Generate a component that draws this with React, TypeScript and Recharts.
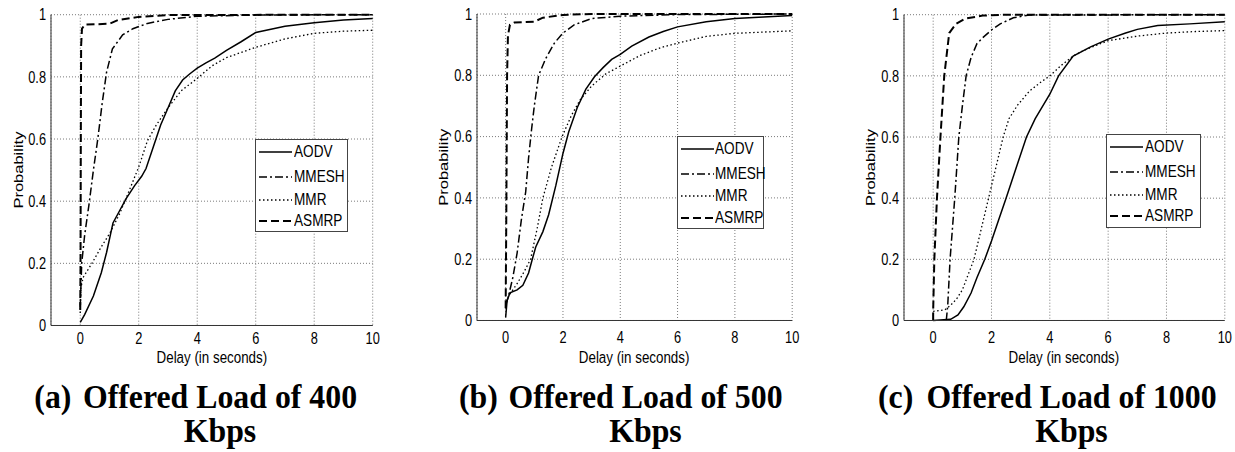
import React from "react";
import { LineChart, Line, XAxis, YAxis, CartesianGrid, Legend } from "recharts";

// ---- data (delay in seconds, cumulative probability) ----
const xTicks = [0, 2, 4, 6, 8, 10];
const yTicks = [0, 0.2, 0.4, 0.6, 0.8, 1];
const seriesNames = ["AODV", "MMESH", "MMR", "ASMRP"];

const aodv400: [number, number][] = [
  [0, 0.01], [0.15, 0.035], [0.45, 0.095], [0.72, 0.17], [0.9, 0.235], [1.12, 0.33], [1.35, 0.37],
  [1.58, 0.41], [1.86, 0.45], [2.1, 0.48], [2.25, 0.505], [2.5, 0.575], [2.75, 0.645], [3.0, 0.7],
  [3.25, 0.755], [3.5, 0.79], [3.75, 0.81], [4.0, 0.828], [4.3, 0.845], [4.6, 0.86], [5.0, 0.885],
  [5.5, 0.913], [6.0, 0.943], [7.0, 0.963], [8.0, 0.974], [9.0, 0.983], [10, 0.988],
];
const mmesh400: [number, number][] = [
  [0, 0.06], [0.05, 0.2], [0.15, 0.29], [0.3, 0.39], [0.45, 0.5], [0.6, 0.6], [0.75, 0.715],
  [0.9, 0.815], [1.1, 0.89], [1.45, 0.935], [1.8, 0.955], [2.3, 0.972], [3.0, 0.985], [4.0, 0.995],
  [6.0, 0.999], [10, 1],
];
const mmr400: [number, number][] = [
  [0, 0.04], [0.02, 0.12], [0.1, 0.155], [0.4, 0.2], [0.7, 0.25], [1.0, 0.295], [1.35, 0.36],
  [1.7, 0.44], [2.0, 0.51], [2.3, 0.595], [2.6, 0.645], [3.0, 0.7], [3.45, 0.755], [4.0, 0.795],
  [4.5, 0.835], [5.0, 0.862], [6.0, 0.895], [7.0, 0.922], [8.0, 0.94], [9.0, 0.947], [10, 0.95],
];
const asmrp400: [number, number][] = [
  [0, 0.05], [0.01, 0.2], [0.02, 0.6], [0.03, 0.9], [0.06, 0.955], [0.15, 0.968], [1.0, 0.971],
  [1.3, 0.983], [2.0, 0.993], [3.0, 0.999], [10, 1],
];

const aodv500: [number, number][] = [
  [0, 0.01], [0.05, 0.065], [0.15, 0.09], [0.4, 0.1], [0.6, 0.115], [0.8, 0.155], [0.93, 0.2],
  [1.05, 0.24], [1.3, 0.29], [1.5, 0.345], [1.75, 0.44], [2.0, 0.545], [2.2, 0.615], [2.5, 0.695],
  [2.8, 0.755], [3.1, 0.795], [3.4, 0.825], [3.7, 0.852], [4.0, 0.868], [4.4, 0.895], [5.0, 0.925],
  [5.5, 0.943], [6.0, 0.958], [7.0, 0.975], [8.0, 0.985], [9.0, 0.99], [10, 0.995],
];
const mmesh500: [number, number][] = [
  [0, 0.05], [0.1, 0.08], [0.25, 0.14], [0.4, 0.22], [0.55, 0.33], [0.7, 0.42], [0.8, 0.53],
  [0.9, 0.62], [1.0, 0.7], [1.15, 0.8], [1.4, 0.855], [1.7, 0.905], [2.0, 0.938], [2.4, 0.965],
  [3.0, 0.985], [4.0, 0.993], [6.0, 0.998], [10, 1],
];
const mmr500: [number, number][] = [
  [0, 0.05], [0.1, 0.08], [0.4, 0.12], [0.65, 0.16], [0.87, 0.2], [1.1, 0.3], [1.3, 0.4],
  [1.6, 0.5], [1.97, 0.6], [2.3, 0.67], [2.6, 0.72], [3.0, 0.765], [3.5, 0.805], [4.0, 0.83],
  [4.7, 0.865], [5.4, 0.89], [6.0, 0.905], [7.0, 0.927], [8.0, 0.937], [9.0, 0.941], [10, 0.945],
];
const asmrp500: [number, number][] = [
  [0, 0.04], [0.02, 0.3], [0.05, 0.8], [0.08, 0.93], [0.15, 0.965], [0.3, 0.972], [1.0, 0.975],
  [1.3, 0.988], [2.0, 0.997], [3.0, 1], [10, 1],
];

const aodv1000: [number, number][] = [
  [0, 0], [0.6, 0.004], [0.85, 0.018], [1.05, 0.045], [1.3, 0.09], [1.5, 0.14], [1.77, 0.2],
  [2.0, 0.26], [2.25, 0.33], [2.5, 0.4], [2.85, 0.5], [3.2, 0.6], [3.5, 0.66], [3.75, 0.7],
  [4.0, 0.74], [4.3, 0.8], [4.8, 0.865], [5.4, 0.895], [6.0, 0.92], [6.6, 0.94], [7.0, 0.952],
  [7.7, 0.965], [8.8, 0.97], [10, 0.977],
];
const mmesh1000: [number, number][] = [
  [0.45, 0], [0.5, 0.05], [0.58, 0.2], [0.74, 0.4], [0.88, 0.6], [1.0, 0.7], [1.13, 0.8],
  [1.3, 0.86], [1.5, 0.905], [1.7, 0.925], [2.0, 0.95], [2.3, 0.97], [2.75, 0.99], [3.3, 0.999],
  [10, 1],
];
const mmr1000: [number, number][] = [
  [0, 0.03], [0.4, 0.035], [0.6, 0.05], [0.8, 0.07], [1.0, 0.1], [1.2, 0.15], [1.4, 0.2],
  [1.65, 0.3], [1.9, 0.4], [2.1, 0.48], [2.4, 0.6], [2.6, 0.66], [2.9, 0.705], [3.3, 0.75],
  [3.7, 0.78], [4.0, 0.8], [4.4, 0.835], [4.8, 0.865], [5.2, 0.885], [6.0, 0.915], [7.0, 0.93],
  [8.0, 0.94], [9.0, 0.945], [10, 0.948],
];
const asmrp1000: [number, number][] = [
  [0, 0], [0, 0.03], [0.04, 0.2], [0.13, 0.4], [0.25, 0.6], [0.38, 0.8], [0.55, 0.94],
  [0.78, 0.97], [1.1, 0.987], [1.7, 0.997], [2.5, 1], [10, 1],
];

// ---- styles ----
const SANS = "'Liberation Sans', Arial, Helvetica, sans-serif";
const SERIF = "'Liberation Serif', 'Times New Roman', serif";
const SQUEEZE = 0.8; // the original figure is narrower than it is tall

const lineStyles: Record<string, { width: number; dash?: string }> = {
  AODV: { width: 1.5 },
  MMESH: { width: 1.5, dash: "8 3 2 3" },
  MMR: { width: 1.3, dash: "1.5 2.5" },
  ASMRP: { width: 2, dash: "8 4" },
};

const legendRows = [11.5, 36.6, 59.3, 80.7];

const toPoints = (arr: [number, number][]) => arr.map(([x, y]) => ({ x, y }));

const panels = [
  {
    tag: "(a)",
    caption: "Offered Load of 400",
    series: [aodv400, mmesh400, mmr400, asmrp400],
    left: 0, top: 14.7, bottom: 325.5, plotLeft: 51, plotRight: 372.7, tickGap: 1.5,
    legend: { left: 255, top: 139.3, width: 93.3, height: 93 },
    tagX: 34.3, captionX: 220,
  },
  {
    tag: "(b)",
    caption: "Offered Load of 500",
    series: [aodv500, mmesh500, mmr500, asmrp500],
    left: 425.5, top: 14, bottom: 320.5, plotLeft: 476.5, plotRight: 791.7, tickGap: 5.5,
    legend: { left: 676.7, top: 136, width: 87.3, height: 93.3 },
    tagX: 459, captionX: 645.5,
  },
  {
    tag: "(c)",
    caption: "Offered Load of 1000",
    series: [aodv1000, mmesh1000, mmr1000, asmrp1000],
    left: 852.5, top: 14.7, bottom: 320.5, plotLeft: 903.5, plotRight: 1224.3, tickGap: 5.5,
    legend: { left: 1106, top: 134.3, width: 94.7, height: 93.3 },
    tagX: 878, captionX: 1071.5,
  },
];

const fmtY = (v: number) => (v === 0 || v === 1 ? String(v) : v.toFixed(1));

function XTick({ x, y, payload }: any) {
  return (
    <g transform={`translate(${x},${y}) scale(${SQUEEZE},1)`}>
      <text textAnchor="middle" dy="0.71em" fontSize={16} fontFamily={SANS} fill="#000">
        {String(payload.value)}
      </text>
    </g>
  );
}

function YTick({ x, y, payload }: any) {
  return (
    <g transform={`translate(${x},${y}) scale(${SQUEEZE},1)`}>
      <text textAnchor="end" dy="0.355em" fontSize={16} fontFamily={SANS} fill="#000">
        {fmtY(payload.value)}
      </text>
    </g>
  );
}

function LegendBox({ width, height }: { width: number; height: number }) {
  return (
    <div
      style={{
        width,
        height,
        boxSizing: "border-box",
        border: "1px solid #444",
        background: "#fff",
        position: "relative",
      }}
    >
      {seriesNames.map((name, i) => {
        const s = lineStyles[name];
        return (
          <div
            key={name}
            style={{
              position: "absolute",
              left: 3,
              top: legendRows[i] - 10,
              height: 20,
              display: "flex",
              alignItems: "center",
              whiteSpace: "nowrap",
            }}
          >
            <svg width={33} height={4} style={{ display: "block" }}>
              <line x1={0} y1={2} x2={33} y2={2} stroke="#000" strokeWidth={s.width} strokeDasharray={s.dash} />
            </svg>
            <span
              style={{
                marginLeft: 1.5,
                fontFamily: SANS,
                fontSize: 17,
                color: "#000",
                lineHeight: "20px",
                display: "inline-block",
                transform: `scaleX(${SQUEEZE})`,
                transformOrigin: "left center",
              }}
            >
              {name}
            </span>
          </div>
        );
      })}
    </div>
  );
}

function Panel({ p }: { p: (typeof panels)[number] }) {
  const marginRight = 10;
  const yAxisWidth = p.plotLeft - p.left;
  const xAxisHeight = 45;
  const width = p.plotRight - p.left + marginRight;
  const height = p.bottom + xAxisHeight + 9;

  return (
    <div style={{ position: "absolute", left: p.left, top: 0 }}>
      <LineChart width={width} height={height} margin={{ top: p.top, right: marginRight, left: 0, bottom: 9 }}>
        <CartesianGrid stroke="#777" strokeDasharray="1 2" />
        <XAxis
          type="number"
          dataKey="x"
          domain={[-1, 10]}
          ticks={xTicks}
          height={xAxisHeight}
          tickLine={false}
          tickMargin={p.tickGap}
          axisLine={{ stroke: "#333" }}
          tick={<XTick />}
        />
        <YAxis
          type="number"
          dataKey="y"
          domain={[0, 1]}
          ticks={yTicks}
          width={yAxisWidth}
          tickSize={3}
          tickLine={false}
          axisLine={{ stroke: "#333" }}
          tick={<YTick />}
        />
        {p.series.map((arr, i) => {
          const name = seriesNames[i];
          const s = lineStyles[name];
          return (
            <Line
              key={name}
              name={name}
              data={toPoints(arr)}
              dataKey="y"
              type="linear"
              stroke="#000"
              strokeWidth={s.width}
              strokeDasharray={s.dash}
              dot={false}
              activeDot={false}
              isAnimationActive={false}
            />
          );
        })}
        <Legend
          layout="horizontal"
          verticalAlign="middle"
          align="center"
          wrapperStyle={{
            left: p.legend.left - p.left,
            top: p.legend.top,
            width: p.legend.width,
            height: p.legend.height,
          }}
          content={() => <LegendBox width={p.legend.width} height={p.legend.height} />}
        />
      </LineChart>
    </div>
  );
}

export default function App() {
  return (
    <div style={{ position: "absolute", left: 0, top: 0, width: 1235, height: 452, background: "#fff", overflow: "hidden" }}>
      {panels.map((p) => (
        <Panel key={p.tag} p={p} />
      ))}
      <svg width={1235} height={452} style={{ position: "absolute", left: 0, top: 0, pointerEvents: "none" }}>
        {panels.map((p) => {
          const cx = (p.plotLeft + p.plotRight) / 2;
          const cy = (p.top + p.bottom) / 2;
          return (
            <g key={p.tag}>
              <g transform={`translate(${cx},363) scale(0.81,1)`}>
                <text textAnchor="middle" fontSize={16.5} fontFamily={SANS} fill="#000">
                  Delay (in seconds)
                </text>
              </g>
              <g transform={`translate(${p.plotLeft - 33},${cy}) scale(${SQUEEZE},1) rotate(-90)`}>
                <text textAnchor="middle" dy="0.35em" fontSize={16.5} fontFamily={SANS} fill="#000">
                  Probability
                </text>
              </g>
              <g fontFamily={SERIF} fontWeight="bold" fontSize={33.5} fill="#000">
                <g transform={`translate(${p.tagX},407.5) scale(0.95,1)`}>
                  <text>{p.tag}</text>
                </g>
                <g transform={`translate(${p.captionX},407.5) scale(0.95,1)`}>
                  <text textAnchor="middle">{p.caption}</text>
                </g>
                <g transform={`translate(${p.captionX},441.7) scale(0.95,1)`}>
                  <text textAnchor="middle">Kbps</text>
                </g>
              </g>
            </g>
          );
        })}
      </svg>
    </div>
  );
}
